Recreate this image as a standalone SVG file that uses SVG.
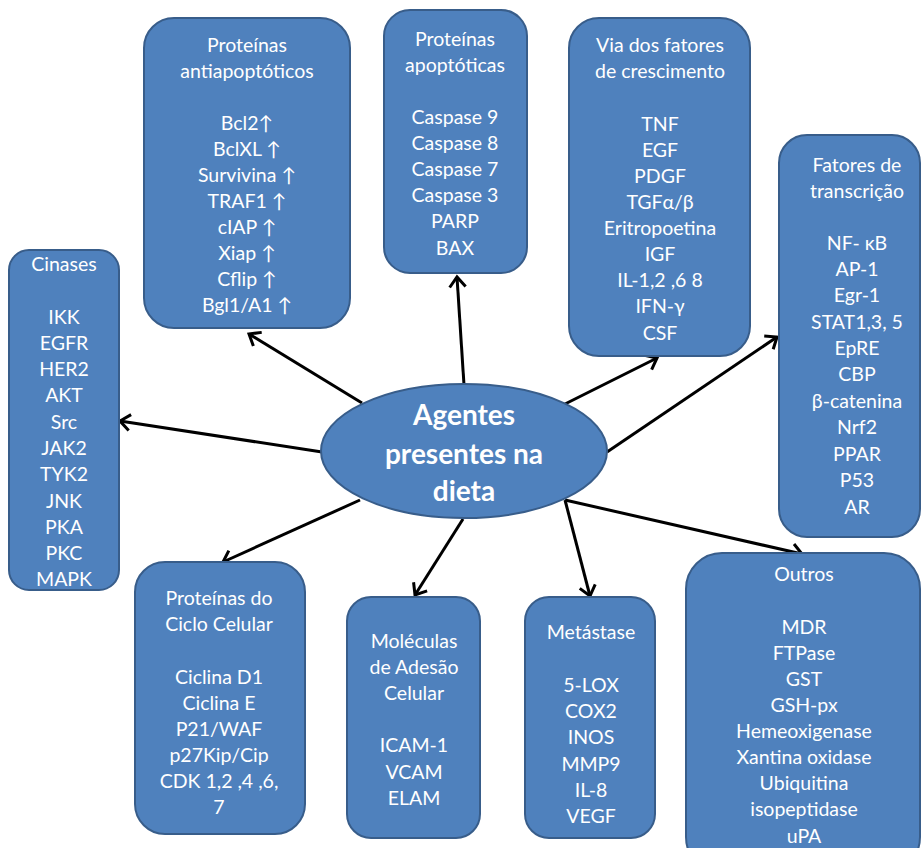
<svg xmlns="http://www.w3.org/2000/svg" width="921" height="848" viewBox="0 0 921 848">
<defs>
<style>
.box{fill:#4F81BD;stroke:#385D8A;stroke-width:2}
.t{font-family:Lato,"Liberation Sans","DejaVu Sans",sans-serif;font-size:19.5px;fill:#fff;text-anchor:middle}
.c{font-family:Lato,"Liberation Sans",sans-serif;font-size:28px;font-weight:bold;fill:#fff;text-anchor:middle}
.a{stroke:#000;stroke-width:3;fill:none;marker-end:url(#arr)}
</style>
<marker id="arr" markerUnits="userSpaceOnUse" markerWidth="22" markerHeight="22" viewBox="0 0 22 22" refX="13" refY="11" orient="auto">
<path d="M3,3 L13,11 L3,19" fill="none" stroke="#000" stroke-width="3"/>
</marker>
</defs>
<rect width="921" height="848" fill="#fff"/>
<g id="connectors">
<line class="a" x1="362" y1="403" x2="249" y2="334"/>
<line class="a" x1="464" y1="385" x2="457" y2="277"/>
<line class="a" x1="565" y1="404" x2="657" y2="358"/>
<line class="a" x1="607" y1="452" x2="777" y2="337"/>
<line class="a" x1="322" y1="452" x2="120" y2="421"/>
<line class="a" x1="360" y1="500" x2="223" y2="562"/>
<line class="a" x1="463" y1="519" x2="415" y2="595"/>
<line class="a" x1="565" y1="500" x2="590" y2="596"/>
<line class="a" x1="565" y1="500" x2="802" y2="554"/>
</g>
<g id="center">
<ellipse class="box" cx="464" cy="451" rx="143" ry="67"/>
<text class="c" x="464" y="425">Agentes</text>
<text class="c" x="464" y="464">presentes na</text>
<text class="c" x="464" y="501">dieta</text>
</g>
<g id="antiapoptoticos">
<rect class="box" x="144" y="18" width="206" height="310" rx="30"/>
<text class="t" x="247" y="51.5">Proteínas</text>
<text class="t" x="247" y="77.5">antiapoptóticos</text>
<text class="t" x="247" y="130">Bcl2↑</text>
<text class="t" x="247" y="156">BclXL ↑</text>
<text class="t" x="247" y="182">Survivina ↑</text>
<text class="t" x="247" y="208">TRAF1 ↑</text>
<text class="t" x="247" y="234">cIAP ↑</text>
<text class="t" x="247" y="260">Xiap ↑</text>
<text class="t" x="247" y="286">Cflip ↑</text>
<text class="t" x="247" y="312">Bgl1/A1 ↑</text>
</g>
<g id="apoptoticas">
<rect class="box" x="384" y="10" width="143" height="263" rx="26"/>
<text class="t" x="455" y="45.5">Proteínas</text>
<text class="t" x="455" y="71.5">apoptóticas</text>
<text class="t" x="455" y="123.5">Caspase 9</text>
<text class="t" x="455" y="149.5">Caspase 8</text>
<text class="t" x="455" y="175.5">Caspase 7</text>
<text class="t" x="455" y="201.5">Caspase 3</text>
<text class="t" x="455" y="228">PARP</text>
<text class="t" x="455" y="254.5">BAX</text>
</g>
<g id="fatores-crescimento">
<rect class="box" x="569" y="18" width="181" height="338" rx="30"/>
<text class="t" x="660" y="51.5">Via dos fatores</text>
<text class="t" x="660" y="77.5">de crescimento</text>
<text class="t" x="660" y="130.5">TNF</text>
<text class="t" x="660" y="156.5">EGF</text>
<text class="t" x="660" y="182.5">PDGF</text>
<text class="t" x="660" y="208.5">TGFα/β</text>
<text class="t" x="660" y="234.5">Eritropoetina</text>
<text class="t" x="660" y="261">IGF</text>
<text class="t" x="660" y="287">IL-1,2 ,6 8</text>
<text class="t" x="660" y="313">IFN-γ</text>
<text class="t" x="660" y="339.5">CSF</text>
</g>
<g id="fatores-transcricao">
<rect class="box" x="779" y="135" width="141" height="402" rx="28"/>
<text class="t" x="857" y="171.5">Fatores de</text>
<text class="t" x="857" y="197.5">transcrição</text>
<text class="t" x="857" y="249.5">NF- κB</text>
<text class="t" x="857" y="276">AP-1</text>
<text class="t" x="857" y="302">Egr-1</text>
<text class="t" x="857" y="328.5">STAT1,3, 5</text>
<text class="t" x="857" y="355">EpRE</text>
<text class="t" x="857" y="381">CBP</text>
<text class="t" x="857" y="408">β-catenina</text>
<text class="t" x="857" y="434">Nrf2</text>
<text class="t" x="857" y="460.5">PPAR</text>
<text class="t" x="857" y="486.5">P53</text>
<text class="t" x="857" y="513.5">AR</text>
</g>
<g id="cinases">
<rect class="box" x="9" y="250" width="110" height="340" rx="20"/>
<text class="t" x="64" y="270.5">Cinases</text>
<text class="t" x="64" y="323.5">IKK</text>
<text class="t" x="64" y="349.5">EGFR</text>
<text class="t" x="64" y="376">HER2</text>
<text class="t" x="64" y="402">AKT</text>
<text class="t" x="64" y="428.5">Src</text>
<text class="t" x="64" y="455">JAK2</text>
<text class="t" x="64" y="481">TYK2</text>
<text class="t" x="64" y="507.5">JNK</text>
<text class="t" x="64" y="533.5">PKA</text>
<text class="t" x="64" y="560">PKC</text>
<text class="t" x="64" y="586">MAPK</text>
</g>
<g id="ciclo-celular">
<rect class="box" x="135" y="562" width="170" height="272" rx="30"/>
<text class="t" x="219" y="604.5">Proteínas do</text>
<text class="t" x="219" y="630.5">Ciclo Celular</text>
<text class="t" x="219" y="683.5">Ciclina D1</text>
<text class="t" x="219" y="709.5">Ciclina E</text>
<text class="t" x="219" y="735.5">P21/WAF</text>
<text class="t" x="219" y="761.5">p27Kip/Cip</text>
<text class="t" x="219" y="787.5">CDK 1,2 ,4 ,6,</text>
<text class="t" x="219" y="814">7</text>
</g>
<g id="adesao">
<rect class="box" x="347" y="597" width="133" height="241" rx="24"/>
<text class="t" x="414" y="647.5">Moléculas</text>
<text class="t" x="414" y="673.5">de Adesão</text>
<text class="t" x="414" y="699.5">Celular</text>
<text class="t" x="414" y="752">ICAM-1</text>
<text class="t" x="414" y="778.5">VCAM</text>
<text class="t" x="414" y="804.5">ELAM</text>
</g>
<g id="metastase">
<rect class="box" x="525" y="597" width="130" height="241" rx="24"/>
<text class="t" x="591" y="638.5">Metástase</text>
<text class="t" x="591" y="691.5">5-LOX</text>
<text class="t" x="591" y="717.5">COX2</text>
<text class="t" x="591" y="744">INOS</text>
<text class="t" x="591" y="770.5">MMP9</text>
<text class="t" x="591" y="796.5">IL-8</text>
<text class="t" x="591" y="822.5">VEGF</text>
</g>
<g id="outros">
<rect class="box" x="686" y="553" width="234" height="320" rx="36"/>
<text class="t" x="804" y="580.5">Outros</text>
<text class="t" x="804" y="633.5">MDR</text>
<text class="t" x="804" y="659.5">FTPase</text>
<text class="t" x="804" y="685.5">GST</text>
<text class="t" x="804" y="711.5">GSH-px</text>
<text class="t" x="804" y="737.5">Hemeoxigenase</text>
<text class="t" x="804" y="764">Xantina oxidase</text>
<text class="t" x="804" y="790">Ubiquitina</text>
<text class="t" x="804" y="816">isopeptidase</text>
<text class="t" x="804" y="843">uPA</text>
</g>
</svg>
